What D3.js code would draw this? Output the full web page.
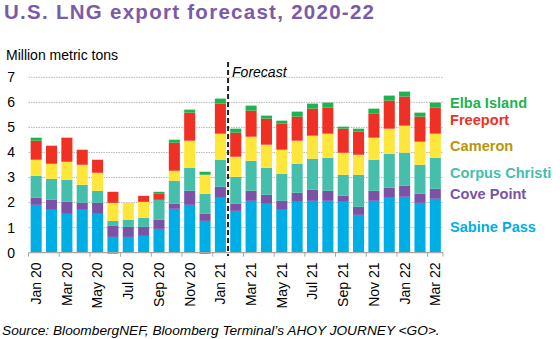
<!DOCTYPE html>
<html><head><meta charset="utf-8">
<script src="https://cdn.jsdelivr.net/npm/d3@7"></script>
<style>body{margin:0;background:#fff}svg{display:block;font-family:"Liberation Sans",Arial,sans-serif}</style>
</head><body><svg id="c" width="560" height="339"></svg>
<script>
const months = ["Jan 20","Feb 20","Mar 20","Apr 20","May 20","Jun 20","Jul 20","Aug 20","Sep 20","Oct 20","Nov 20","Dec 20",
"Jan 21","Feb 21","Mar 21","Apr 21","May 21","Jun 21","Jul 21","Aug 21","Sep 21","Oct 21","Nov 21","Dec 21","Jan 22","Feb 22","Mar 22"];
const sabinePass    = [1.91,1.71,1.55,1.71,1.55,0.63,0.63,0.67,0.95,1.75,1.91,1.27,2.19,1.67,2.07,1.95,1.71,2.03,2.07,2.07,2.03,1.51,2.07,2.19,2.23,1.99,2.15];
const covePoint     = [0.28,0.40,0.48,0.28,0.44,0.44,0.40,0.36,0.36,0.20,0.56,0.28,0.44,0.28,0.40,0.36,0.36,0.36,0.44,0.40,0.24,0.32,0.40,0.40,0.44,0.36,0.40];
const corpusChristi = [0.88,0.84,0.88,0.72,0.48,0.20,0.28,0.36,0.80,0.92,0.92,0.80,1.08,1.08,1.20,1.08,1.08,1.16,1.24,1.32,0.84,1.28,1.24,1.36,1.32,1.16,1.24];
const cameron       = [0.64,0.60,0.72,0.80,0.72,0.72,0.68,0.64,0.00,0.40,1.08,0.76,1.04,0.80,0.96,0.92,0.96,0.92,0.92,0.96,0.88,0.80,0.88,1.00,1.08,0.92,0.96];
const freeport      = [0.76,0.72,0.96,0.60,0.52,0.44,0.00,0.24,0.26,1.12,1.12,-0.04,1.20,0.96,1.04,1.04,1.05,0.96,1.08,1.04,0.96,0.93,0.97,1.12,1.16,1.00,1.04];
const elbaIsland    = [0.12,0.00,0.00,0.00,0.00,-0.04,0.00,0.00,0.06,0.12,0.12,0.12,0.20,0.16,0.20,0.12,0.11,0.20,0.20,0.20,0.08,0.11,0.19,0.20,0.20,0.16,0.20];
const seriesNames = ["Sabine Pass","Cove Point","Corpus Christi","Cameron","Freeport","Elba Island"];
const yTicks = [0,1,2,3,4,5,6,7];
const xLabels = ["Jan 20","Mar 20","May 20","Jul 20","Sep 20","Nov 20","Jan 21","Mar 21","May 21","Jul 21","Sep 21","Nov 21","Jan 22","Mar 22"];
const forecastStart = "Feb 21";

const barColors = ["#00AEE6","#7B52A6","#45BEAB","#FFE63B","#EE3124","#1DB34F"];
const legendColors = ["#00AEE6","#7B52A6","#45BEAB","#B8960F","#EE3124","#1DB34F"];
const legendY = [227,194,173,146,120,102.5];

const seriesArr = [sabinePass,covePoint,corpusChristi,cameron,freeport,elbaIsland];
const rows = months.map((m,i)=>{const r={month:m};seriesNames.forEach((s,j)=>r[s]=seriesArr[j][i]);return r;});
const stack = d3.stack().keys(seriesNames).offset(d3.stackOffsetDiverging)(rows);

const svg = d3.select("#c");
const x = d3.scaleBand().domain(months).range([28.5,443]).paddingInner(0.28).paddingOuter(0.14);
const y = d3.scaleLinear().domain([0,7]).range([252.7,77.3]);

// title
svg.append("text").attr("x",4).attr("y",18.5).attr("font-size",20.5).attr("font-weight","bold").attr("fill","#7B5AA8")
  .attr("textLength",370).attr("lengthAdjust","spacing").text("U.S. LNG export forecast, 2020-22");
svg.append("text").attr("x",6).attr("y",59.5).attr("font-size",14).attr("fill","#000").text("Million metric tons");

// gridlines
svg.append("g").selectAll("line").data(yTicks.filter(d=>d>0)).join("line")
  .attr("x1",28.5).attr("x2",443).attr("y1",d=>y(d)).attr("y2",d=>y(d))
  .attr("stroke","#b8b8b8").attr("stroke-width",1).attr("stroke-dasharray","1.5,1");
svg.append("g").selectAll("text").data(yTicks).join("text")
  .attr("x",15).attr("y",d=>y(d)).attr("dy","0.35em").attr("text-anchor","end").attr("font-size",14).text(d=>d);

// bars
svg.append("g").selectAll("g").data(stack).join("g").attr("fill",(d,i)=>barColors[i])
  .selectAll("rect").data(d=>d).join("rect")
  .attr("x",d=>x(d.data.month)).attr("width",x.bandwidth())
  .attr("y",d=>y(Math.max(d[0],d[1]))).attr("height",d=>Math.abs(y(d[0])-y(d[1])));

// baseline
svg.append("line").attr("x1",28.5).attr("x2",443).attr("y1",y(0)).attr("y2",y(0)).attr("stroke","#a6a6a6").attr("stroke-width",1.2);
const step = x.step();
const tickX = d3.range(0,months.length+1,2).map(i=>28.5+i*step).concat([443]);
svg.append("g").selectAll("line").data(tickX).join("line")
  .attr("x1",d=>d).attr("x2",d=>d).attr("y1",y(0)).attr("y2",y(0)+4).attr("stroke","#a6a6a6");

// x labels
svg.append("g").selectAll("text").data(xLabels).join("text")
  .attr("transform",d=>`translate(${x(d)+x.bandwidth()/2},262.5) rotate(-90)`)
  .attr("dy","0.35em").attr("text-anchor","end").attr("font-size",14).text(d=>d);

// forecast line
const fx = x(forecastStart) - (step - x.bandwidth())/2;
svg.append("line").attr("x1",fx).attr("x2",fx).attr("y1",62).attr("y2",256)
  .attr("stroke","#222").attr("stroke-width",2).attr("stroke-dasharray","5,3");
svg.append("text").attr("x",fx+4).attr("y",77).attr("font-size",14).attr("font-style","italic").text("Forecast");

// legend
svg.append("g").selectAll("text").data(seriesNames).join("text")
  .attr("x",450).attr("y",(d,i)=>legendY[i]).attr("dy","0.35em").attr("font-size",14.6).attr("font-weight","bold")
  .attr("fill",(d,i)=>legendColors[i]).text(d=>d);

svg.append("text").attr("x",2).attr("y",335).attr("font-size",13.7).attr("font-style","italic")
  .text("Source: BloombergNEF, Bloomberg Terminal’s AHOY JOURNEY <GO>.");
</script></body></html>
